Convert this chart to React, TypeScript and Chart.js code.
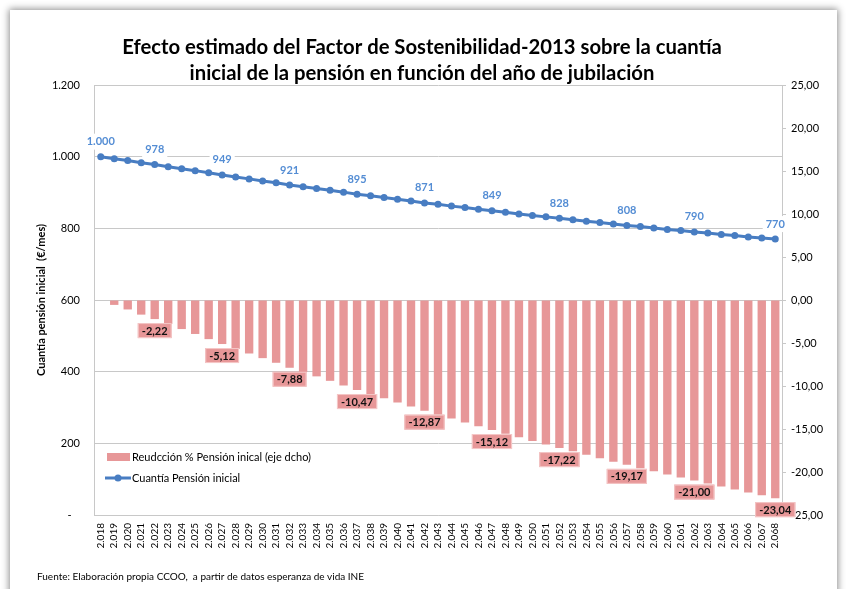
import React, { useEffect, useRef } from "react";
import { Chart, registerables } from "chart.js";

Chart.register(...registerables);

const years = [
  "2.018", "2.019", "2.020", "2.021", "2.022", "2.023", "2.024", "2.025", "2.026", "2.027",
  "2.028", "2.029", "2.030", "2.031", "2.032", "2.033", "2.034", "2.035", "2.036", "2.037",
  "2.038", "2.039", "2.040", "2.041", "2.042", "2.043", "2.044", "2.045", "2.046", "2.047",
  "2.048", "2.049", "2.050", "2.051", "2.052", "2.053", "2.054", "2.055", "2.056", "2.057",
  "2.058", "2.059", "2.060", "2.061", "2.062", "2.063", "2.064", "2.065", "2.066", "2.067",
  "2.068",
];

const reduccionPct = [
  0, -0.57, -1.1, -1.7, -2.22, -2.78, -3.38, -3.95, -4.55, -5.12,
  -5.68, -6.22, -6.76, -7.3, -7.88, -8.38, -8.88, -9.4, -9.93, -10.47,
  -10.95, -11.42, -11.92, -12.38, -12.87, -13.32, -13.77, -14.24, -14.68, -15.12,
  -15.55, -15.96, -16.4, -16.8, -17.22, -17.6, -18.0, -18.4, -18.8, -19.17,
  -19.55, -19.92, -20.28, -20.64, -21.0, -21.35, -21.7, -22.04, -22.38, -22.7,
  -23.04,
];

const cuantia = [
  1000, 994, 989, 983, 978, 972, 966, 961, 955, 949,
  943, 938, 932, 927, 921, 916, 911, 906, 901, 895,
  891, 886, 881, 876, 871, 867, 862, 858, 853, 849,
  845, 840, 836, 832, 828, 824, 820, 816, 812, 808,
  805, 801, 797, 794, 790, 787, 783, 780, 776, 773,
  770,
];

const lineLabelIdx = [0, 4, 9, 14, 19, 24, 29, 34, 39, 44, 50];
const barLabelIdx = [4, 9, 14, 19, 24, 29, 34, 39, 44, 50];

const titleLines = [
  "Efecto estimado del Factor de Sostenibilidad-2013 sobre la cuantía",
  "inicial de la pensión en función del año de jubilación",
];
const yTitle = "Cuantía pensión inicial  (€/mes)";
const footer = "Fuente: Elaboración propia CCOO,  a partir de datos esperanza de vida INE";
const legendBar = "Reudcción % Pensión inical (eje dcho)";
const legendLine = "Cuantía Pensión inicial";

const FONT = "Lato, 'Open Sans', 'Noto Sans', sans-serif";
const BAR = "rgb(231,151,152)";
const LINE = "rgb(72,125,194)";
const LABEL_BLUE = "rgb(84,141,212)";
const GRID = "rgb(200,200,200)";

function fmtThousands(v: number) {
  return Math.round(v).toString().replace(/\B(?=(\d{3})+(?!\d))/g, ".");
}
function fmtPct(v: number) {
  return v.toFixed(2).replace(".", ",");
}

const overlayPlugin = {
  id: "overlay",
  afterDraw(chart: any) {
    const ctx = chart.ctx as CanvasRenderingContext2D;
    ctx.save();

    // Title
    ctx.fillStyle = "#000";
    ctx.textAlign = "center";
    ctx.textBaseline = "middle";
    ctx.font = `bold 20px ${FONT}`;
    const w0 = ctx.measureText(titleLines[0]).width;
    const ts = (20 * 600) / w0;
    ctx.font = `bold ${ts}px ${FONT}`;
    ctx.fillText(titleLines[0], 422, 47);
    ctx.fillText(titleLines[1], 422, 73);

    // Y axis title
    ctx.save();
    ctx.translate(41, 300);
    ctx.rotate(-Math.PI / 2);
    ctx.font = `bold 11px ${FONT}`;
    ctx.fillStyle = "#000";
    ctx.textAlign = "center";
    ctx.textBaseline = "middle";
    ctx.fillText(yTitle, 0, 0);
    ctx.restore();

    // Line data labels
    const lineMeta = chart.getDatasetMeta(1);
    ctx.font = `bold 11px ${FONT}`;
    ctx.textAlign = "center";
    ctx.textBaseline = "middle";
    lineLabelIdx.forEach((i) => {
      const p = lineMeta.data[i];
      const txt = fmtThousands(cuantia[i]);
      const tw = ctx.measureText(txt).width;
      const cy = p.y - 15;
      ctx.fillStyle = "#fff";
      ctx.fillRect(p.x - tw / 2 - 3, cy - 8, tw + 6, 16);
      ctx.fillStyle = LABEL_BLUE;
      ctx.fillText(txt, p.x, cy);
    });

    // Bar data labels
    const barMeta = chart.getDatasetMeta(0);
    barLabelIdx.forEach((i) => {
      const b = barMeta.data[i];
      const txt = fmtPct(reduccionPct[i]);
      const tw = ctx.measureText(txt).width;
      const top = b.y + 4;
      ctx.fillStyle = BAR;
      ctx.fillRect(b.x - tw / 2 - 4, top, tw + 8, 15);
      ctx.strokeStyle = "rgba(245,200,200,1)";
      ctx.lineWidth = 1;
      ctx.strokeRect(b.x - tw / 2 - 4 + 0.5, top + 0.5, tw + 7, 14);
      ctx.fillStyle = "#111";
      ctx.fillText(txt, b.x, top + 8);
    });

    // Legend
    ctx.font = `11px ${FONT}`;
    ctx.textAlign = "left";
    ctx.textBaseline = "middle";
    ctx.fillStyle = BAR;
    ctx.fillRect(107, 453, 23, 8);
    ctx.fillStyle = "#000";
    ctx.fillText(legendBar, 132, 457.5);
    ctx.strokeStyle = LINE;
    ctx.lineWidth = 3;
    ctx.beginPath();
    ctx.moveTo(105, 478);
    ctx.lineTo(131, 478);
    ctx.stroke();
    ctx.fillStyle = LINE;
    ctx.beginPath();
    ctx.arc(118, 478, 3.5, 0, Math.PI * 2);
    ctx.fill();
    ctx.fillStyle = "#000";
    ctx.fillText(legendLine, 132, 478.5);

    // Footer
    ctx.font = `10px ${FONT}`;
    ctx.fillStyle = "#000";
    ctx.fillText(footer, 37, 577);

    ctx.restore();
  },
};

export default function App() {
  const canvasRef = useRef<HTMLCanvasElement | null>(null);

  useEffect(() => {
    if (!canvasRef.current) return;
    const chart = new Chart(canvasRef.current, {
      type: "bar",
      data: {
        labels: years,
        datasets: [
          {
            type: "bar",
            label: legendBar,
            data: reduccionPct,
            backgroundColor: BAR,
            borderWidth: 0,
            yAxisID: "y1",
            barPercentage: 0.62,
            categoryPercentage: 1.0,
            order: 2,
          },
          {
            type: "line",
            label: legendLine,
            data: cuantia,
            borderColor: LINE,
            backgroundColor: LINE,
            borderWidth: 3,
            pointRadius: 3.5,
            pointBackgroundColor: LINE,
            pointBorderWidth: 0,
            yAxisID: "y",
            order: 1,
          },
        ] as any,
      },
      options: {
        responsive: false,
        animation: false,
        layout: { padding: { top: 85, left: 0, right: 0, bottom: 0 } },
        plugins: {
          legend: { display: false },
          title: { display: false },
          tooltip: { enabled: false },
        },
        scales: {
          x: {
            offset: true,
            grid: { display: false, drawTicks: false },
            border: { display: true, color: GRID, width: 1 },
            ticks: {
              autoSkip: false,
              maxRotation: 90,
              minRotation: 90,
              padding: 8,
              color: "#000",
              font: { family: FONT, size: 10 },
            },
            afterFit: (s: any) => {
              s.height = 74;
            },
          },
          y: {
            position: "left",
            min: 0,
            max: 1200,
            ticks: {
              stepSize: 200,
              padding: 14,
              color: "#000",
              font: { family: FONT, size: 11 },
              callback: (v: any) => (Number(v) === 0 ? "-   " : fmtThousands(Number(v))),
            },
            grid: { color: GRID, drawTicks: false, lineWidth: 1 },
            border: { display: true, color: GRID, width: 1 },
            afterFit: (s: any) => {
              s.width = 94;
            },
          },
          y1: {
            position: "right",
            min: -25,
            max: 25,
            ticks: {
              stepSize: 5,
              padding: 5,
              color: "#000",
              font: { family: FONT, size: 11 },
              callback: (v: any) => fmtPct(Number(v)),
            },
            grid: { drawOnChartArea: false, drawTicks: true, tickLength: 4, color: GRID },
            border: { display: true, color: GRID, width: 1 },
            afterFit: (s: any) => {
              s.width = 67;
            },
          },
        },
      } as any,
      plugins: [overlayPlugin],
    });
    return () => chart.destroy();
  }, []);

  return (
    <div
      style={{
        position: "fixed",
        left: 0,
        top: 0,
        width: 849,
        height: 589,
        overflow: "hidden",
        background: "#fff",
      }}
    >
      <div
        style={{
          position: "absolute",
          left: 10,
          top: 10,
          width: 827,
          height: 600,
          background: "#fff",
          boxShadow: "0 0 7px 1px rgba(0,0,0,0.45)",
        }}
      />
      <canvas
        ref={canvasRef}
        width={849}
        height={589}
        style={{ position: "absolute", left: 0, top: 0, width: 849, height: 589 }}
      />
    </div>
  );
}
